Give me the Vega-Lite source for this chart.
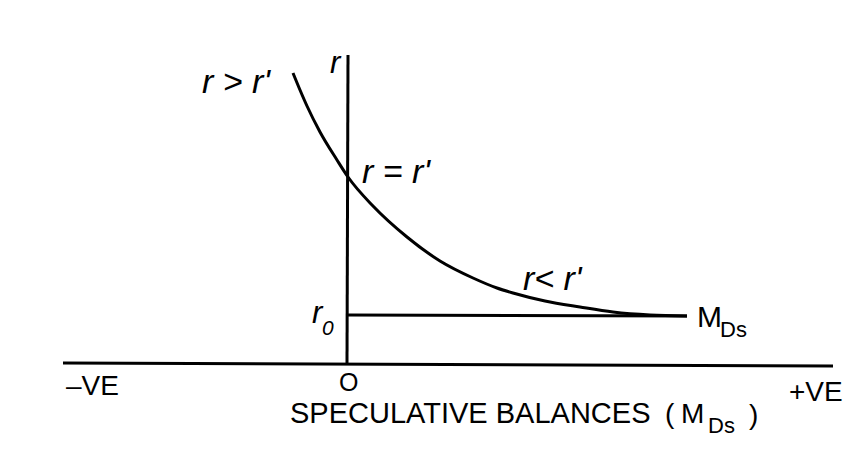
{
  "$schema": "https://vega.github.io/schema/vega-lite/v6.json",
  "width": 854,
  "height": 469,
  "autosize": {"type": "fit", "contains": "padding"},
  "padding": 0,
  "background": "white",
  "config": {"view": {"stroke": null}},
  "datasets": {
    "curve": [
      {"x": -5.5, "y": 29.0}, {"x": -4.8, "y": 27.3}, {"x": -4.1, "y": 25.7},
      {"x": -2.8, "y": 23.1}, {"x": -1.1, "y": 20.3}, {"x": 0, "y": 18.6},
      {"x": 2.5, "y": 15.7}, {"x": 5.9, "y": 12.6}, {"x": 9.2, "y": 10.2},
      {"x": 12.5, "y": 8.5}, {"x": 14.9, "y": 7.5}, {"x": 16.5, "y": 7.0},
      {"x": 19.7, "y": 6.2}, {"x": 23.2, "y": 5.6}, {"x": 26.5, "y": 5.1},
      {"x": 30.2, "y": 4.8}, {"x": 33.9, "y": 4.7}
    ],
    "straight": [
      {"seg": "xaxis", "o": 1, "x": -28.5, "y": 0},
      {"seg": "xaxis", "o": 2, "x": 48.5, "y": -0.3},
      {"seg": "yaxis", "o": 1, "x": 0, "y": 30.8},
      {"seg": "yaxis", "o": 2, "x": -0.1, "y": 0},
      {"seg": "r0", "o": 1, "x": 0, "y": 4.8},
      {"seg": "r0", "o": 2, "x": 33.9, "y": 4.7}
    ],
    "italicBig": [
      {"x": -14.6, "y": 27.0, "t": "r > r'"},
      {"x": 1.4, "y": 18.0, "t": "r = r'"},
      {"x": 17.5, "y": 7.3, "t": "r< r'"}
    ],
    "italicMid": [
      {"x": -1.8, "y": 29.0, "t": "r"},
      {"x": -3.6, "y": 4.0, "t": "r"}
    ],
    "italicSub": [
      {"x": -2.6, "y": 2.8, "t": "0"}
    ],
    "plainBig": [
      {"x": 34.9, "y": 3.6, "t": "M"}
    ],
    "plainSubBig": [
      {"x": 37.2, "y": 2.6, "t": "Ds"}
    ],
    "axisLabels": [
      {"x": -28.2, "y": -3.2, "t": "–VE"},
      {"x": 44.1, "y": -3.8, "t": "+VE"}
    ],
    "origin": [
      {"x": -0.9, "y": -2.8, "t": "O"}
    ],
    "title": [
      {"x": -5.8, "y": -6.0, "t": "SPECULATIVE BALANCES"}
    ],
    "titleEnd": [
      {"x": 31.7, "y": -6.0, "t": "("},
      {"x": 33.3, "y": -6.0, "t": "M"},
      {"x": 40.1, "y": -6.1, "t": ")"}
    ],
    "titleSub": [
      {"x": 36.0, "y": -7.0, "t": "Ds"}
    ]
  },
  "encoding": {
    "x": {"field": "x", "type": "quantitative", "scale": {"domain": [-34.8, 50.6], "nice": false, "zero": false}, "axis": null},
    "y": {"field": "y", "type": "quantitative", "scale": {"domain": [-10.6, 36.3], "nice": false, "zero": false}, "axis": null}
  },
  "layer": [
    {
      "data": {"name": "straight"},
      "mark": {"type": "line", "color": "black", "strokeWidth": 3},
      "encoding": {"detail": {"field": "seg"}, "order": {"field": "o"}}
    },
    {
      "data": {"name": "curve"},
      "mark": {"type": "line", "color": "black", "strokeWidth": 3, "interpolate": "monotone"}
    },
    {
      "data": {"name": "italicBig"},
      "mark": {"type": "text", "align": "left", "baseline": "alphabetic", "font": "Liberation Sans", "fontStyle": "italic", "fontSize": 34, "color": "black"},
      "encoding": {"text": {"field": "t"}}
    },
    {
      "data": {"name": "italicMid"},
      "mark": {"type": "text", "align": "left", "baseline": "alphabetic", "font": "Liberation Sans", "fontStyle": "italic", "fontSize": 31, "color": "black"},
      "encoding": {"text": {"field": "t"}}
    },
    {
      "data": {"name": "italicSub"},
      "mark": {"type": "text", "align": "left", "baseline": "alphabetic", "font": "Liberation Sans", "fontStyle": "italic", "fontSize": 21, "color": "black"},
      "encoding": {"text": {"field": "t"}}
    },
    {
      "data": {"name": "plainBig"},
      "mark": {"type": "text", "align": "left", "baseline": "alphabetic", "font": "Liberation Sans", "fontSize": 30, "color": "black"},
      "encoding": {"text": {"field": "t"}}
    },
    {
      "data": {"name": "plainSubBig"},
      "mark": {"type": "text", "align": "left", "baseline": "alphabetic", "font": "Liberation Sans", "fontSize": 22, "color": "black"},
      "encoding": {"text": {"field": "t"}}
    },
    {
      "data": {"name": "axisLabels"},
      "mark": {"type": "text", "align": "left", "baseline": "alphabetic", "font": "Liberation Sans", "fontSize": 28, "color": "black"},
      "encoding": {"text": {"field": "t"}}
    },
    {
      "data": {"name": "origin"},
      "mark": {"type": "text", "align": "left", "baseline": "alphabetic", "font": "Liberation Sans", "fontSize": 25, "color": "black"},
      "encoding": {"text": {"field": "t"}}
    },
    {
      "data": {"name": "title"},
      "mark": {"type": "text", "align": "left", "baseline": "alphabetic", "font": "Liberation Sans", "fontSize": 29, "color": "black"},
      "encoding": {"text": {"field": "t"}}
    },
    {
      "data": {"name": "titleEnd"},
      "mark": {"type": "text", "align": "left", "baseline": "alphabetic", "font": "Liberation Sans", "fontSize": 28, "color": "black"},
      "encoding": {"text": {"field": "t"}}
    },
    {
      "data": {"name": "titleSub"},
      "mark": {"type": "text", "align": "left", "baseline": "alphabetic", "font": "Liberation Sans", "fontSize": 22, "color": "black"},
      "encoding": {"text": {"field": "t"}}
    }
  ]
}
